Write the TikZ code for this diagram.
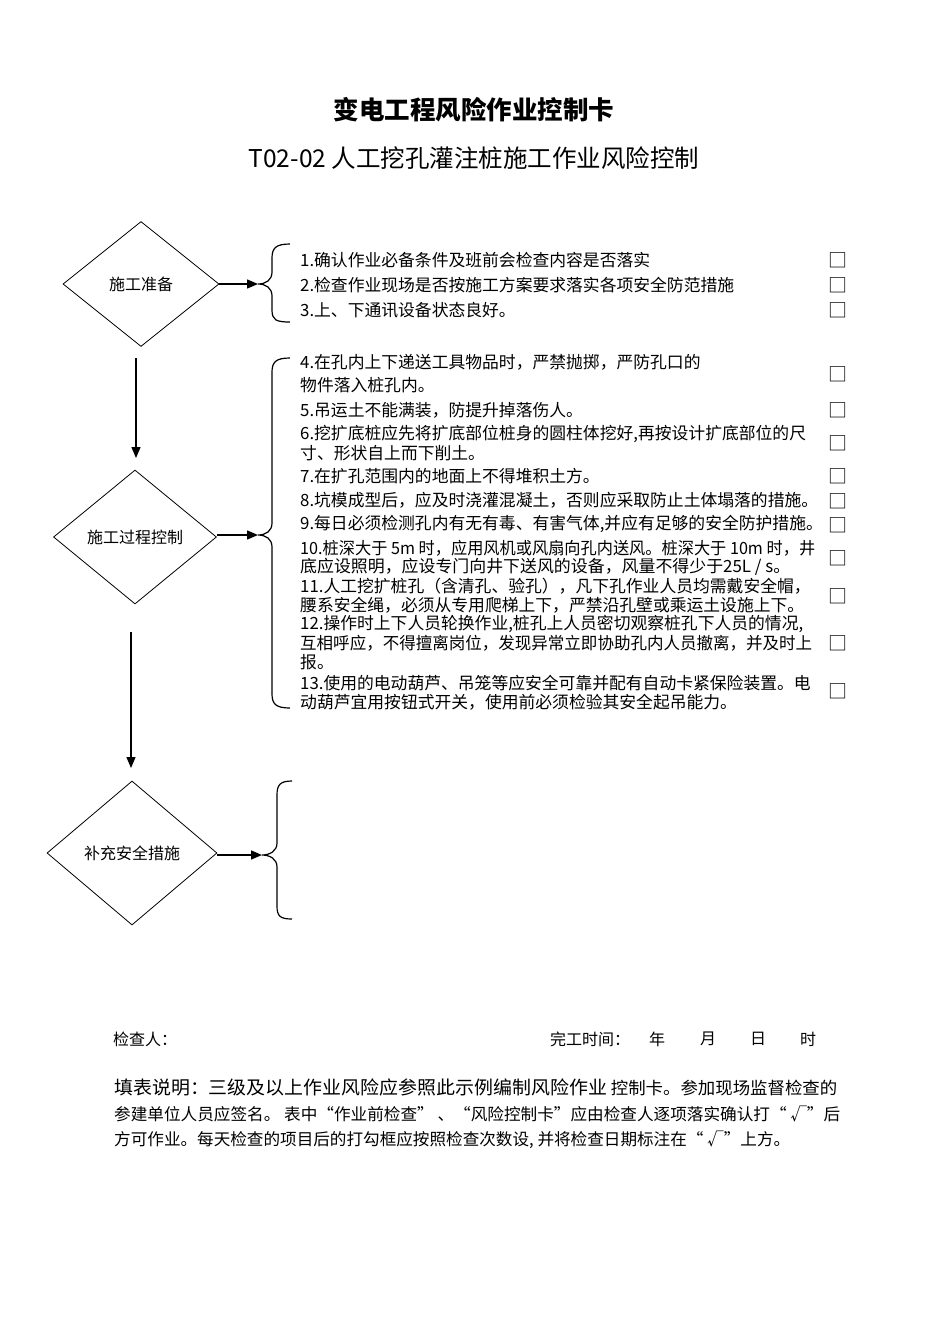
\documentclass[tikz,border=0pt]{standalone}
\usepackage{fontspec}
\usepackage{graphicx}
\setmainfont{Noto Sans CJK SC}
\usetikzlibrary{shapes.geometric,arrows.meta}
\tikzset{
  dia/.style={draw, diamond, line width=0.8pt, inner sep=0pt, font=\fontsize{16}{19}\selectfont},
  itemtext/.style={anchor=west, inner sep=0pt, font=\fontsize{16.8}{19}\selectfont},
  cbox/.style={inner sep=0pt, font=\fontsize{19}{21}\selectfont},
  conn/.style={line width=1.4pt, -{Triangle[length=11pt,width=9pt]}},
  bracepath/.style={line width=1.2pt},
  foottext/.style={anchor=west, inner sep=0pt, font=\fontsize{16}{19}\selectfont},
  notetext/.style={anchor=west, inner sep=0pt, font=\fontsize{16.5}{19}\selectfont}
}
\begin{document}
\begin{tikzpicture}[x=1pt,y=-1pt]
\useasboundingbox (0,0) rectangle (950,1344);
\fill[white] (0,0) rectangle (950,1344);

% titles
\node[inner sep=0pt, font=\fontsize{25.5}{28}\selectfont\bfseries] (title) at (474,110) {变电工程风险作业控制卡};
\node[inner sep=0pt, font=\fontsize{24.5}{28}\selectfont] (subtitle) at (474,158) {T02-02 人工挖孔灌注桩施工作业风险控制};

% diamonds
\node[dia, minimum width=156pt, minimum height=125pt] (d1) at (141,284) {施工准备};
\node[dia, minimum width=163pt, minimum height=134pt] (d2) at (135,537) {施工过程控制};
\node[dia, minimum width=170pt, minimum height=144pt] (d3) at (132,853) {补充安全措施};

% brace tips
\coordinate (b1) at (258,284);
\coordinate (b2) at (258,535);
\coordinate (b3) at (262,855);

% vertical arrow ends
\coordinate (v1s) at (136,358);
\coordinate (v1e) at (136,458);
\coordinate (v2s) at (131,632);
\coordinate (v2e) at (131,768);

\draw[conn] (v1s) -- (v1e);
\draw[conn] (v2s) -- (v2e);
\draw[conn] (d1.east) -- (b1);
\draw[conn] (d2.east |- b2) -- (b2);
\draw[conn] (d3.east |- b3) -- (b3);

% braces
\draw[bracepath] (290,244) .. controls (276,244) and (272,248) .. (272,258) -- (272,272)
  .. controls (272,280) and (266,284) .. (b1) .. controls (266,284) and (272,288) .. (272,296)
  -- (272,310) .. controls (272,320) and (276,322) .. (290,322);
\draw[bracepath] (290,358) .. controls (276,358) and (272,362) .. (272,372) -- (272,523)
  .. controls (272,531) and (266,535) .. (b2) .. controls (266,535) and (272,539) .. (272,547)
  -- (272,694) .. controls (272,704) and (276,708) .. (290,708);
\draw[bracepath] (292,781) .. controls (280,781) and (277,785) .. (277,795) -- (277,843)
  .. controls (277,851) and (270,855) .. (b3) .. controls (270,855) and (277,859) .. (277,867)
  -- (277,906) .. controls (277,916) and (280,919) .. (292,919);

% items
\node[itemtext] (l1) at (300,260) {1.确认作业必备条件及班前会检查内容是否落实};
\node[itemtext] (l2) at (300,285) {2.检查作业现场是否按施工方案要求落实各项安全防范措施};
\node[itemtext] (l3) at (300,310) {3.上、下通讯设备状态良好。};
\node[itemtext] (l4a) at (300,362) {4.在孔内上下递送工具物品时，严禁抛掷，严防孔口的};
\node[itemtext] (l4b) at (300,385) {物件落入桩孔内。};
\node[itemtext] (l5) at (300,410) {5.吊运土不能满装，防提升掉落伤人。};
\node[itemtext] (l6a) at (300,434) {6.挖扩底桩应先将扩底部位桩身的圆柱体挖好,再按设计扩底部位的尺};
\node[itemtext] (l6b) at (300,453) {寸、形状自上而下削土。};
\node[itemtext] (l7) at (300,476) {7.在扩孔范围内的地面上不得堆积土方。};
\node[itemtext] (l8) at (300,500) {8.坑模成型后，应及时浇灌混凝土，否则应采取防止土体塌落的措施。};
\node[itemtext] (l9) at (300,524) {9.每日必须检测孔内有无有毒、有害气体,并应有足够的安全防护措施。};
\node[itemtext] (l10a) at (300,548) {\resizebox{515pt}{\height}{10.桩深大于 5m 时，应用风机或风扇向孔内送风。桩深大于 10m 时，井}};
\node[itemtext] (l10b) at (300,567) {\resizebox{490pt}{\height}{底应设照明，应设专门向井下送风的设备，风量不得少于25L / s。}};
\node[itemtext] (l11a) at (300,586) {11.人工挖扩桩孔（含清孔、验孔），凡下孔作业人员均需戴安全帽，};
\node[itemtext] (l11b) at (300,605) {腰系安全绳，必须从专用爬梯上下，严禁沿孔壁或乘运土设施上下。};
\node[itemtext] (l12a) at (300,624) {12.操作时上下人员轮换作业,桩孔上人员密切观察桩孔下人员的情况,};
\node[itemtext] (l12b) at (300,643) {\resizebox{512pt}{\height}{互相呼应，不得擅离岗位，发现异常立即协助孔内人员撤离，并及时上}};
\node[itemtext] (l12c) at (300,662) {报。};
\node[itemtext] (l13a) at (300,683) {13.使用的电动葫芦、吊笼等应安全可靠并配有自动卡紧保险装置。电};
\node[itemtext] (l13b) at (300,702) {动葫芦宜用按钮式开关，使用前必须检验其安全起吊能力。};

% check boxes
\foreach \n/\yy in {c1/260,c2/285,c3/310,c4/374,c5/410,c6/443,c7/476,c8/501,c9/525,c10/558,c11/596,c12/643,c13/691}
  \node[cbox] (\n) at (838,\yy) {□};

% footer
\node[foottext] (inspector) at (113,1039) {检查人：};
\node[foottext] (donetime) at (550,1039) {完工时间：};
\node[inner sep=0pt, font=\fontsize{16}{19}\selectfont] (yr) at (657,1039) {年};
\node[inner sep=0pt, font=\fontsize{16}{19}\selectfont] (mo) at (708,1039) {月};
\node[inner sep=0pt, font=\fontsize{16}{19}\selectfont] (dy) at (758,1039) {日};
\node[inner sep=0pt, font=\fontsize{16}{19}\selectfont] (hr) at (808,1039) {时};

\node[notetext] (n1) at (114,1087) {\resizebox{723pt}{\height}{\fontsize{18.5}{20}\selectfont 填表说明：三级及以上作业风险应参照此示例编制风险作业\fontsize{17}{20}\selectfont\ 控制卡。参加现场监督检查的}};
\node[notetext] (n2) at (114,1114) {\resizebox{726pt}{\height}{参建单位人员应签名。 表中“作业前检查” 、“风险控制卡”应由检查人逐项落实确认打“ √”后}};
\node[notetext] (n3) at (114,1140) {\resizebox{676pt}{\height}{方可作业。每天检查的项目后的打勾框应按照检查次数设, 并将检查日期标注在“ √”上方。}};
\end{tikzpicture}
\end{document}
